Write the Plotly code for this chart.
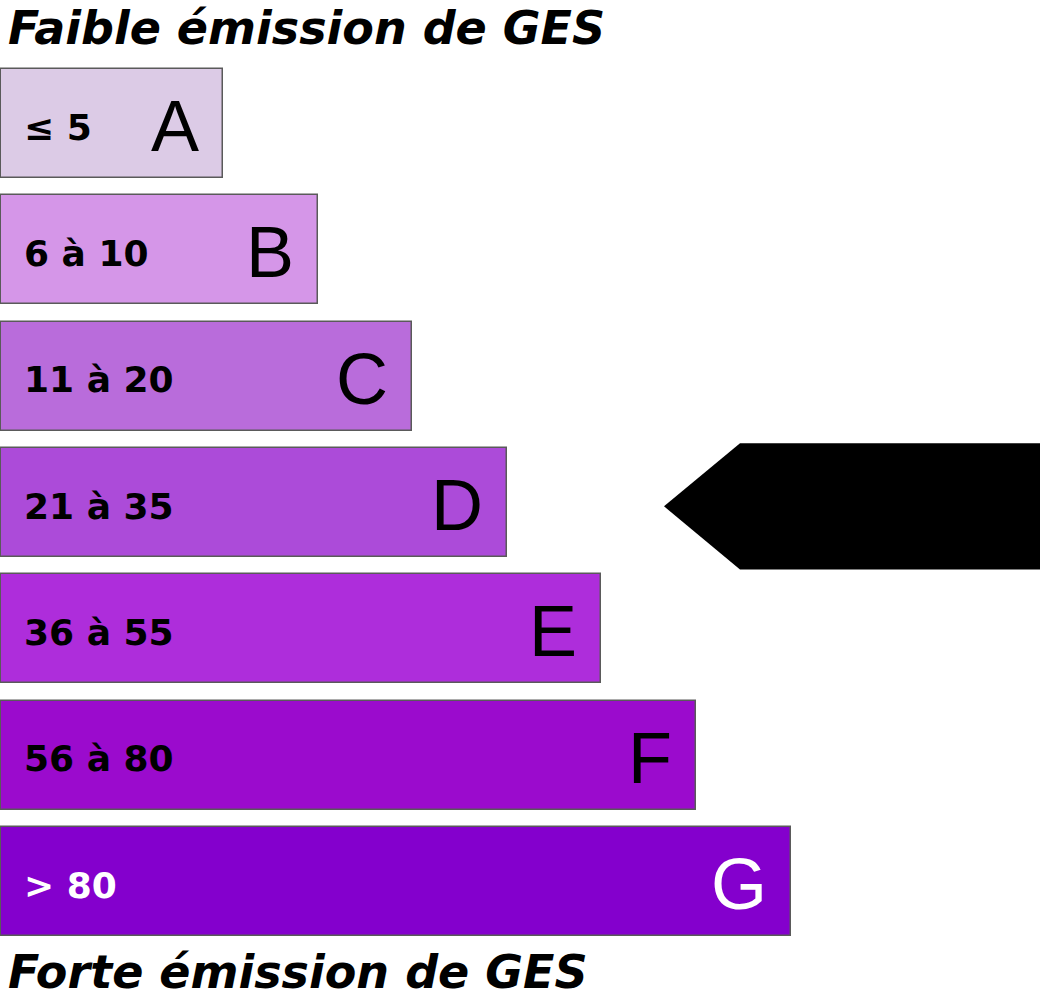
import plotly.graph_objects as go

# --- data ---
classes = ["A", "B", "C", "D", "E", "F", "G"]
ranges = ["≤ 5", "6 à 10", "11 à 20", "21 à 35", "36 à 55", "56 à 80", "> 80"]
bar_lengths = [222, 317, 411, 506, 600, 695, 790]
colors = ["#dccbe6", "#d596e8", "#b96cdb", "#ac4bd9", "#ae2ddb", "#9b0bcd", "#8400cd"]
text_colors = ["#000000"] * 6 + ["#ffffff"]
current_class = "D"
title_top = "Faible émission de GES"
title_bottom = "Forte émission de GES"

ypos = list(range(len(classes)))

fig = go.Figure()
fig.add_trace(go.Bar(
    x=bar_lengths, y=ypos, orientation="h",
    marker=dict(color=colors, line=dict(color="#5a5a5a", width=1.5)),
    width=0.863, hoverinfo="skip", showlegend=False,
))

annotations = []
for i, (c, r, L, tc) in enumerate(zip(classes, ranges, bar_lengths, text_colors)):
    annotations.append(dict(x=21, y=i + 0.03, xref="x", yref="y", text=r, showarrow=False,
                            xanchor="left", yanchor="middle",
                            font=dict(family="DejaVu Sans", size=36, color=tc, weight="bold")))
    annotations.append(dict(x=L - 22, y=i + 0.02, xref="x", yref="y", text=c, showarrow=False,
                            xanchor="right", yanchor="middle",
                            font=dict(family="Liberation Sans", size=72, color=tc)))

annotations.append(dict(x=0.007, y=1.0, xref="paper", yref="paper", text=title_top, showarrow=False,
                        xanchor="left", yanchor="top", borderpad=0,
                        font=dict(family="DejaVu Sans", size=46, color="#000", weight="bold", style="italic")))
annotations.append(dict(x=0.007, y=0.0, xref="paper", yref="paper", text=title_bottom, showarrow=False,
                        xanchor="left", yanchor="bottom", borderpad=0,
                        font=dict(family="DejaVu Sans", size=46, color="#000", weight="bold", style="italic")))

# arrow pointing at current class
k = classes.index(current_class)
tip_x, shoulder_x, end_x = 663, 739, 1045
arrow_path = (f"M {tip_x},{k + 0.03} L {shoulder_x},{k - 0.47} L {end_x},{k - 0.47} "
              f"L {end_x},{k + 0.53} L {shoulder_x},{k + 0.53} Z")
fig.add_shape(type="path", path=arrow_path, xref="x", yref="y",
              fillcolor="#000000", line=dict(width=0))

fig.update_layout(
    width=1040, height=1000,
    margin=dict(l=0, r=0, t=0, b=0),
    paper_bgcolor="white", plot_bgcolor="white",
    annotations=annotations,
    xaxis=dict(range=[-1, 1039], visible=False, fixedrange=True),
    yaxis=dict(range=[6.938, -0.978], visible=False, fixedrange=True),
    bargap=0,
)

fig.write_html("out.html")
